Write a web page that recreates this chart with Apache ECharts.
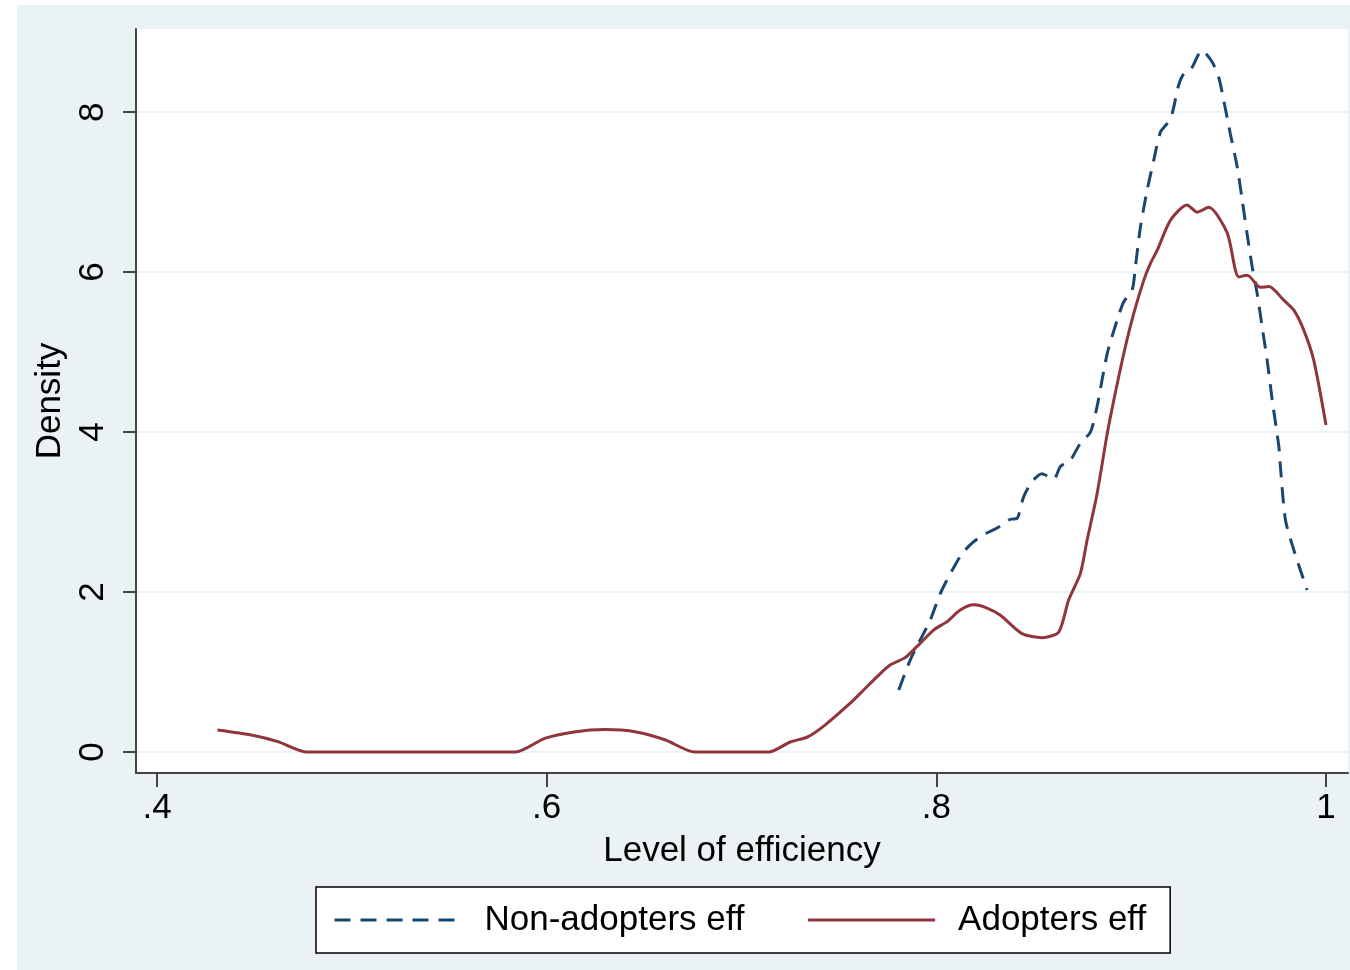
<!DOCTYPE html>
<html>
<head>
<meta charset="utf-8">
<script src="https://cdn.jsdelivr.net/npm/echarts@6/dist/echarts.min.js"></script>
<style>html,body{margin:0;padding:0;background:#fff;}#c{width:1350px;height:970px;}</style>
</head>
<body>
<div id="c"></div>
<script>
const xTickValues = [0.4, 0.6, 0.8, 1.0];
const xTickLabels = ['.4', '.6', '.8', '1'];
const yTickValues = [0, 2, 4, 6, 8];
const yTickLabels = ['0', '2', '4', '6', '8'];

const nonAdoptersX = [0.7807,0.7866,0.7917,0.7969,0.8020,0.8072,0.8132,0.8192,0.8252,0.8312,0.8380,0.8414,0.8448,0.8491,0.8543,0.8602,0.8637,0.8688,0.8739,0.8791,0.8825,0.8877,0.8928,0.8962,0.9005,0.9022,0.9048,0.9082,0.9116,0.9150,0.9185,0.9210,0.9244,0.9270,0.9304,0.9364,0.9415,0.9449,0.9475,0.9509,0.9544,0.9570,0.9595,0.9621,0.9647,0.9672,0.9698,0.9724,0.9758,0.9766,0.9792,0.9835,0.9903];
const nonAdoptersY = [0.775,1.15,1.40,1.65,1.98,2.23,2.48,2.63,2.73,2.80,2.91,2.92,3.19,3.38,3.48,3.41,3.57,3.65,3.86,4.00,4.32,4.98,5.40,5.63,5.775,6.07,6.57,7.025,7.40,7.75,7.86,7.98,8.34,8.48,8.525,8.77,8.63,8.44,8.15,7.73,7.32,6.90,6.48,6.07,5.73,5.32,4.90,4.40,3.82,3.57,2.90,2.525,2.025];

const adoptersX = [0.431,0.449,0.462,0.477,0.584,0.599,0.614,0.630,0.646,0.661,0.676,0.714,0.725,0.734,0.743,0.7558,0.7627,0.7695,0.7764,0.7840,0.7901,0.7986,0.8055,0.8123,0.8192,0.8260,0.8329,0.8440,0.8543,0.8628,0.8679,0.8739,0.8774,0.8825,0.8877,0.8911,0.8962,0.9013,0.9065,0.9099,0.9134,0.9202,0.9287,0.9339,0.9398,0.9493,0.9552,0.9596,0.9664,0.9707,0.9783,0.9835,0.9886,0.9937,1.0];
const adoptersY = [0.275,0.21,0.13,0.0,0.0,0.17,0.25,0.28,0.25,0.15,0.0,0.0,0.125,0.19,0.34,0.61,0.775,0.94,1.09,1.18,1.32,1.525,1.63,1.775,1.84,1.80,1.71,1.48,1.43,1.50,1.90,2.23,2.65,3.23,3.98,4.40,4.98,5.48,5.90,6.11,6.275,6.65,6.84,6.75,6.81,6.49,5.94,5.96,5.81,5.82,5.65,5.525,5.275,4.90,4.09];

const zip = (xs, ys) => xs.map((x, i) => [x, ys[i]]);
const FONT = '"Liberation Sans", Arial, Helvetica, sans-serif';

const chart = echarts.init(document.getElementById('c'), null, {renderer: 'canvas'});
chart.setOption({
  backgroundColor: '#ffffff',
  animation: false,
  graphic: [{
    type: 'rect', z: -100, silent: true,
    shape: {x: 17, y: 5, width: 1333, height: 965},
    style: {fill: '#eaf2f3'}
  }],
  grid: {
    left: 136, right: 2, top: 29, bottom: 197,
    show: true, backgroundColor: '#ffffff', borderWidth: 0
  },
  xAxis: {
    type: 'value', min: 0.3892, max: 1.0113,
    name: 'Level of efficiency', nameLocation: 'middle', nameGap: 61,
    nameTextStyle: {fontFamily: FONT, fontSize: 35, color: '#000'},
    axisLine: {onZero: false, lineStyle: {color: '#444', width: 2}},
    axisTick: {show: true, length: 14, lineStyle: {color: '#444', width: 2}, customValues: xTickValues},
    axisLabel: {
      fontFamily: FONT, fontSize: 35, color: '#000', margin: 18,
      customValues: xTickValues,
      formatter: v => xTickLabels[xTickValues.findIndex(t => Math.abs(t - v) < 1e-6)]
    },
    splitLine: {show: false}
  },
  yAxis: {
    type: 'value', min: -0.2625, max: 9.04,
    name: 'Density', nameLocation: 'middle', nameGap: 57, nameRotate: 90,
    nameTextStyle: {fontFamily: FONT, fontSize: 35, color: '#000'},
    axisLine: {show: true, onZero: false, lineStyle: {color: '#444', width: 2}},
    axisTick: {show: true, length: 13, lineStyle: {color: '#444', width: 2}, customValues: yTickValues},
    axisLabel: {
      fontFamily: FONT, fontSize: 35, color: '#000', margin: 25, rotate: 90,
      customValues: yTickValues,
      formatter: v => yTickLabels[yTickValues.findIndex(t => Math.abs(t - v) < 1e-6)]
    },
    splitLine: {show: true, lineStyle: {color: '#eaf2f3', width: 2}}
  },
  legend: {
    left: 316, top: 887,
    orient: 'horizontal',
    backgroundColor: '#ffffff', borderColor: '#000', borderWidth: 1.5,
    padding: [13, 24, 13, 17],
    itemWidth: 127, itemHeight: 14, itemGap: 62,
    itemStyle: {opacity: 0},
    lineStyle: {width: 3},
    textStyle: {fontFamily: FONT, fontSize: 35, color: '#000', padding: [0, 0, 0, 18], lineHeight: 40},
    data: ['Non-adopters eff', 'Adopters eff']
  },
  series: [
    {
      name: 'Non-adopters eff', type: 'line', symbol: 'none', smooth: 0.25,
      data: zip(nonAdoptersX, nonAdoptersY),
      lineStyle: {color: '#1a476f', width: 3, type: [16, 10]},
      itemStyle: {color: '#1a476f'}
    },
    {
      name: 'Adopters eff', type: 'line', symbol: 'none', smooth: 0.25,
      data: zip(adoptersX, adoptersY),
      lineStyle: {color: '#90353b', width: 3, type: 'solid'},
      itemStyle: {color: '#90353b'}
    }
  ]
});
</script>
</body>
</html>
